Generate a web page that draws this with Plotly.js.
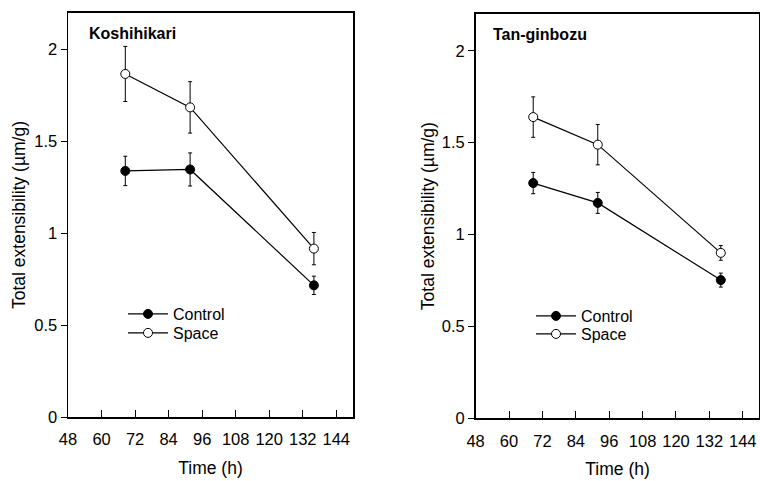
<!DOCTYPE html>
<html>
<head>
<meta charset="utf-8">
<script src="https://cdn.plot.ly/plotly-3.0.1.min.js"></script>
<style>html,body{margin:0;padding:0;background:#fff;}#chart{width:760px;height:481px;}</style>
</head>
<body>
<div id="chart"></div>
<script>
// Koshihikari (left panel)
const timeK = [68.5, 91.7, 136];
const controlK = [1.34, 1.348, 0.717];
const controlKErr = [0.08, 0.09, 0.05];
const spaceK = [1.868, 1.686, 0.917];
const spaceKErr = [0.15, 0.14, 0.088];

// Tan-ginbozu (right panel)
const timeT = [68.7, 91.9, 136.1];
const controlT = [1.28, 1.172, 0.752];
const controlTErr = [0.058, 0.057, 0.038];
const spaceT = [1.639, 1.489, 0.9];
const spaceTErr = [0.11, 0.11, 0.04];

const xTicks = [48, 60, 72, 84, 96, 108, 120, 132, 144];
const yTicks = [0, 0.5, 1, 1.5, 2];
const yTickText = ['0', '0.5', '1', '1.5', '2'];
const seriesNames = ['Control', 'Space'];
const panelLabels = ['Koshihikari', 'Tan-ginbozu'];

const FONT = 'Liberation Sans, Arial, Helvetica, sans-serif';

function mk(x, y, err, name, filled, xa, ya, lg) {
  return {
    type: 'scatter', mode: 'lines+markers', x: x, y: y, name: name,
    xaxis: xa, yaxis: ya, legend: lg,
    line: {color: '#000', width: 1.2},
    marker: {size: 9, color: filled ? '#000' : '#fff', line: {color: '#000', width: 1}},
    error_y: {type: 'data', array: err, visible: true, color: '#000', thickness: 1, width: 2},
    cliponaxis: false
  };
}

const data = [
  mk(timeK, controlK, controlKErr, seriesNames[0], true, 'x', 'y', 'legend'),
  mk(timeK, spaceK, spaceKErr, seriesNames[1], false, 'x', 'y', 'legend3'),
  mk(timeT, controlT, controlTErr, seriesNames[0], true, 'x2', 'y2', 'legend2'),
  mk(timeT, spaceT, spaceTErr, seriesNames[1], false, 'x2', 'y2', 'legend4')
];

function xax(domain, anchor) {
  return {
    domain: domain, anchor: anchor, range: [48, 150],
    showline: true, linecolor: '#000', linewidth: 1.5, mirror: true,
    ticks: 'inside', ticklen: 7, tickwidth: 1, tickcolor: '#000',
    tickvals: xTicks, showgrid: false, zeroline: false,
    tickfont: {size: 16.5, color: '#000', family: FONT},
    ticklabelstandoff: 7,
    title: {text: 'Time (h)', font: {size: 17.5, color: '#000', family: FONT}, standoff: 14}
  };
}
function yax(domain, anchor, standoff) {
  return {
    domain: domain, anchor: anchor, range: [0, 2.2],
    showline: true, linecolor: '#000', linewidth: 1.5, mirror: true,
    ticks: 'outside', ticklen: 6, tickwidth: 1, tickcolor: '#000',
    tickvals: yTicks, ticktext: yTickText, showgrid: false, zeroline: false,
    tickfont: {size: 16.5, color: '#000', family: FONT},
    title: {text: 'Total extensibility (µm/g)', font: {size: 17.5, color: '#000', family: FONT}, standoff: standoff}
  };
}

const legendBase = {
  bgcolor: 'rgba(0,0,0,0)', borderwidth: 0,
  font: {size: 16, color: '#000', family: FONT},
  xanchor: 'left', yanchor: 'middle', itemwidth: 40, tracegroupgap: 0
};

const layout = {
  width: 760, height: 481,
  margin: {l: 0, r: 0, t: 0, b: 0},
  paper_bgcolor: '#fff', plot_bgcolor: '#fff',
  showlegend: true,
  font: {family: FONT, color: '#000'},
  xaxis: xax([0.0895, 0.4645], 'y'),
  yaxis: yax([0.133, 0.973], 'x', 4),
  xaxis2: xax([0.6258, 0.9993], 'y2'),
  yaxis2: yax([0.1304, 0.9709], 'x2', 2),
  legend: Object.assign({}, legendBase, {x: 123 / 760, y: 1 - 314 / 481}),
  legend3: Object.assign({}, legendBase, {x: 123 / 760, y: 1 - 333 / 481}),
  legend2: Object.assign({}, legendBase, {x: 531 / 760, y: 1 - 316 / 481}),
  legend4: Object.assign({}, legendBase, {x: 531 / 760, y: 1 - 334 / 481}),
  annotations: [
    {xref: 'x domain', yref: 'y domain', x: 0.068, y: 0.95, xanchor: 'left', yanchor: 'middle',
     text: '<b>' + panelLabels[0] + '</b>', showarrow: false, font: {size: 16, color: '#000', family: FONT}},
    {xref: 'x2 domain', yref: 'y2 domain', x: 0.054, y: 0.95, xanchor: 'left', yanchor: 'middle',
     text: '<b>' + panelLabels[1] + '</b>', showarrow: false, font: {size: 16, color: '#000', family: FONT}}
  ]
};

Plotly.newPlot('chart', data, layout, {displayModeBar: false, staticPlot: true});
</script>
</body>
</html>
